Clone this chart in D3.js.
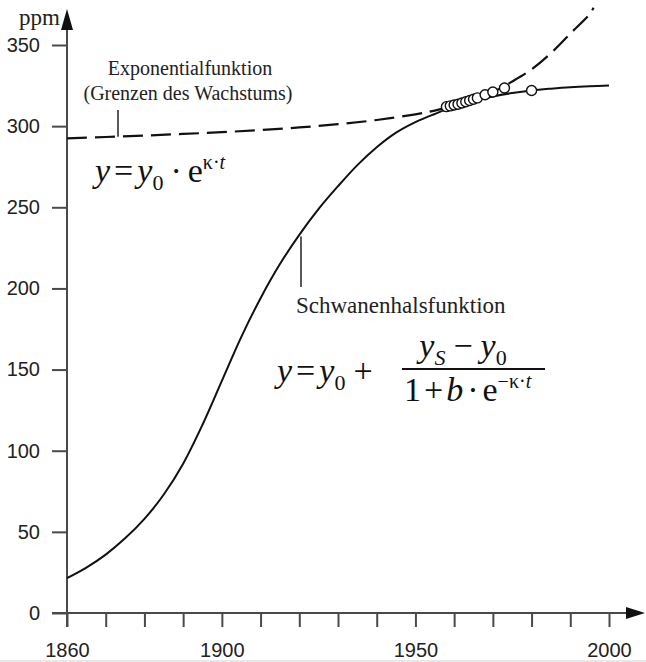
<!DOCTYPE html>
<html>
<head>
<meta charset="utf-8">
<script src="https://cdn.jsdelivr.net/npm/d3@7"></script>
<style>
  body { margin: 0; background: #fff; }
  svg { display: block; }
</style>
</head>
<body>
<svg id="chart" width="646" height="662"></svg>
<script>
// CO2 concentration (ppm) over time: logistic ("Schwanenhals") curve,
// exponential curve ("Grenzen des Wachstums") and measured values.

const logisticYears = [1860, 1865, 1870, 1875, 1880, 1885, 1890, 1895, 1900, 1905, 1910, 1915, 1920, 1925, 1930,
                       1935, 1940, 1945, 1950, 1955, 1960, 1965, 1970, 1975, 1980, 1985, 1990, 1995, 2000];
const logisticPpm   = [21.5, 28, 36, 46, 58, 73, 92, 116, 143, 170, 194, 215, 233, 249, 263,
                       276, 287, 296, 302.5, 307.5, 312, 315.5, 318.3, 320.4, 322, 323.1, 324, 324.6, 325];

const expYears = [1860, 1870, 1880, 1890, 1900, 1910, 1920, 1930, 1940, 1950, 1955, 1960, 1965, 1970,
                  1975, 1980, 1985, 1990, 1995, 1996];
const expPpm   = [292.5, 293.3, 294.2, 295.2, 296.3, 297.6, 299.2, 301.2, 303.8, 307.3, 309.6, 312.5, 316.3, 321,
                  327.5, 335, 345, 357, 369, 373];

const measuredYears = [1958, 1959, 1960, 1961, 1962, 1963, 1964, 1965, 1966, 1968, 1970, 1973, 1980];
const measuredPpm   = [312, 312.5, 313, 313.5, 314.3, 315, 315.8, 316.6, 317.4, 319.3, 321, 323.5, 322];

const xTickYears  = [1860, 1870, 1880, 1890, 1900, 1910, 1920, 1930, 1940, 1950, 1960, 1970, 1980, 1990, 2000];
const xLabelYears = [1860, 1900, 1950, 2000];
const yTickValues = [0, 50, 100, 150, 200, 250, 300, 350];

const svg = d3.select("#chart");
const serif = "'Liberation Serif', 'Times New Roman', serif";
const sans = "'Liberation Sans', Arial, sans-serif";
const axisColor = "#4a4a4a";

const x = d3.scaleLinear().domain([1860, 2000]).range([67, 609]);
const y = d3.scaleLinear().domain([0, 350]).range([613, 45]);

// faint strip along the bottom edge
svg.append("rect").attr("x", 0).attr("y", 660).attr("width", 646).attr("height", 2).attr("fill", "#e8e8e8");

// ---- axes ----
const yAxis = d3.axisLeft(y).tickValues(yTickValues).tickSize(15).tickFormat(d3.format("d")).tickPadding(12);
const gy = svg.append("g").attr("transform", `translate(${x(1860)},0)`).call(yAxis);
gy.select(".domain").remove();
gy.selectAll(".tick line").attr("stroke", axisColor).attr("stroke-width", 2);
gy.selectAll(".tick text").attr("font-family", sans).attr("font-size", 20).attr("fill", "#222");

const xAxis = d3.axisBottom(x).tickValues(xTickYears).tickSize(14)
  .tickFormat(d => xLabelYears.includes(d) ? d : "").tickPadding(16);
const gx = svg.append("g").attr("transform", `translate(0,${y(0)})`).call(xAxis);
gx.select(".domain").remove();
gx.selectAll(".tick line").attr("stroke", axisColor).attr("stroke-width", 2);
gx.selectAll(".tick text").attr("font-family", sans).attr("font-size", 20).attr("fill", "#222");

// axis lines with arrowheads
svg.append("line").attr("x1", x(1860)).attr("x2", x(1860)).attr("y1", y(0) + 14).attr("y2", 24)
  .attr("stroke", axisColor).attr("stroke-width", 2);
svg.append("path").attr("d", `M${x(1860)},9 L${x(1860) - 6},30 L${x(1860) + 6},30 Z`).attr("fill", "#111");

svg.append("line").attr("x1", 52).attr("x2", 632).attr("y1", y(0)).attr("y2", y(0))
  .attr("stroke", axisColor).attr("stroke-width", 2);
svg.append("path").attr("d", `M645,${y(0)} L626,${y(0) - 6} L626,${y(0) + 6} Z`).attr("fill", "#111");

svg.append("text").attr("x", 19).attr("y", 25).attr("font-family", serif).attr("font-size", 23)
  .attr("fill", "#222").text("ppm");

// ---- curves ----
const line = d3.line().x(d => x(d[0])).y(d => y(d[1])).curve(d3.curveCatmullRom.alpha(0.5));

svg.append("path").datum(d3.zip(expYears, expPpm)).attr("d", line)
  .attr("fill", "none").attr("stroke", "#111").attr("stroke-width", 2.2)
  .attr("stroke-dasharray", "20,8");

svg.append("path").datum(d3.zip(logisticYears, logisticPpm)).attr("d", line)
  .attr("fill", "none").attr("stroke", "#111").attr("stroke-width", 2);

svg.append("g").selectAll("circle").data(d3.zip(measuredYears, measuredPpm)).join("circle")
  .attr("cx", d => x(d[0])).attr("cy", d => y(d[1])).attr("r", 5)
  .attr("fill", "#fff").attr("stroke", "#111").attr("stroke-width", 1.4);

// ---- labels ----
svg.append("text").attr("x", 190).attr("y", 75).attr("text-anchor", "middle")
  .attr("font-family", serif).attr("font-size", 20).attr("fill", "#222").text("Exponentialfunktion");
svg.append("text").attr("x", 188).attr("y", 100).attr("text-anchor", "middle")
  .attr("font-family", serif).attr("font-size", 20).attr("fill", "#222").text("(Grenzen des Wachstums)");
svg.append("line").attr("x1", 118).attr("x2", 118).attr("y1", 110).attr("y2", y(293.5))
  .attr("stroke", "#222").attr("stroke-width", 1.5);

svg.append("text").attr("x", 296).attr("y", 313)
  .attr("font-family", serif).attr("font-size", 23).attr("fill", "#222").text("Schwanenhalsfunktion");
svg.append("line").attr("x1", 301).attr("x2", 301).attr("y1", 287).attr("y2", y(232))
  .attr("stroke", "#222").attr("stroke-width", 1.5);

// ---- formulas ----
function formula(px, py, parts, size) {
  const t = svg.append("text").attr("x", px).attr("y", py)
    .attr("font-family", serif).attr("font-size", size).attr("fill", "#111");
  parts.forEach(p => {
    const s = t.append("tspan").text(p.t);
    if (p.i) s.attr("font-style", "italic");
    if (p.s) s.attr("font-size", p.s);
    if (p.dy) s.attr("dy", p.dy);
    if (p.dx) s.attr("dx", p.dx);
  });
  return t;
}

formula(95, 182, [
  { t: "y", i: true },
  { t: "=", dx: 4 },
  { t: "y", i: true, dx: 4 },
  { t: "0", s: 22, dy: 8 },
  { t: "·", dy: -8, dx: 7 },
  { t: "e", dx: 6 },
  { t: "κ·", s: 20, dy: -13 },
  { t: "t", s: 20, i: true }
], 34);

formula(277, 382, [
  { t: "y", i: true },
  { t: "=", dx: 4 },
  { t: "y", i: true, dx: 4 },
  { t: "0", s: 22, dy: 8 },
  { t: "+", dy: -8, dx: 8 }
], 34);

formula(463, 357, [
  { t: "y", i: true },
  { t: "S", s: 22, i: true, dy: 8 },
  { t: "−", dy: -8, dx: 8 },
  { t: "y", i: true, dx: 8 },
  { t: "0", s: 22, dy: 8 }
], 34).attr("text-anchor", "middle");

svg.append("line").attr("x1", 402).attr("x2", 545).attr("y1", 369).attr("y2", 369)
  .attr("stroke", "#111").attr("stroke-width", 2);

formula(404, 401, [
  { t: "1" },
  { t: "+", dx: 3 },
  { t: "b", i: true, dx: 3 },
  { t: "·", dx: 4 },
  { t: "e", dx: 4 },
  { t: "−κ·", s: 20, dy: -13 },
  { t: "t", s: 20, i: true }
], 34);
</script>
</body>
</html>
